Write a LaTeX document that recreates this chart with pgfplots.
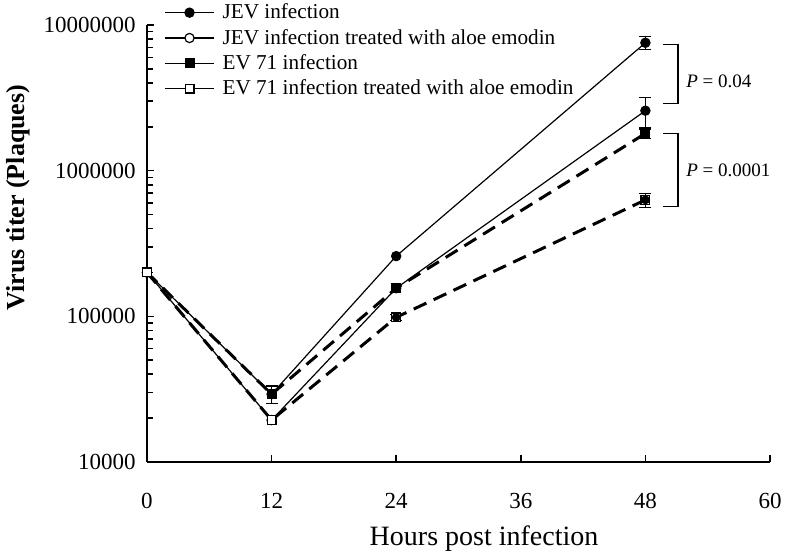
\documentclass[border=0pt]{standalone}
\usepackage{fontspec}
\setmainfont{Liberation Serif}
\usepackage{pgfplots}
\usepackage{pgfplotstable}
\pgfplotsset{compat=1.18}
\pgfplotstableread{
x y
0 200000
12 29200
24 259000
48 7550000
}\jev
\pgfplotstableread{
x y
0 200000
12 19400
24 156000
48 2580000
}\jevtr
\pgfplotstableread{
x y
0 200000
12 29200
24 156000
48 1800000
}\ev
\pgfplotstableread{
x y
0 200000
12 19400
24 98400
48 630000
}\evtr
\pgfplotstableread{
x y e
48 7550000 750000
48 2580000 600000
48 1800000 130000
12 29200 4000
48 630000 70000
24 98400 5000
}\errs
\begin{document}
\begin{tikzpicture}
\begin{axis}[
  scale only axis, width=311.5pt, height=218.5pt,
  xmin=0, xmax=60, ymin=1e4, ymax=1e7, ymode=log,
  axis lines=left, axis line style={-, line width=0.8pt},
  xtick={0,12,24,36,48,60},
  ytick={1e4,1e5,1e6,1e7}, yticklabels={10000,100000,1000000,10000000},
  minor ytick={},
  tick align=inside, major tick length=3.5pt, tick style={line width=0.8pt, black},
  /pgf/number format/assume math mode=true,
  ticklabel style={font=\fontsize{11.5}{13}\selectfont},
  xticklabel style={anchor=north, inner sep=0pt, text height=7.6pt, text depth=0pt, yshift=-15.7pt},
  yticklabel style={anchor=east, inner sep=0pt, text height=7.6pt, text depth=0pt, xshift=-5.5pt},
  xlabel={Hours post infection},
  xlabel style={font=\fontsize{14}{16}\selectfont, at={(axis description cs:0.541,-0.1922)}, anchor=base},
  ylabel={Virus titer (Plaques)},
  ylabel style={font=\fontsize{13}{15}\selectfont\bfseries, at={(axis description cs:-0.2071,0.605)}, anchor=center},
  clip=false,
  legend style={at={(axis description cs:0.0273,1.052)}, anchor=north west, draw=none, fill=none,
    font=\fontsize{10.6}{12}\selectfont, inner sep=0pt, row sep=2.67pt,
    nodes={inner sep=0pt, text height=8pt, text depth=2pt},
    /tikz/every odd column/.style={column sep=4pt}},
  legend cell align=left,
  legend image code/.code={\draw[mark repeat=2,mark phase=2,#1,solid,line width=0.6pt] plot coordinates {(0pt,0pt)(12.25pt,0pt)(24.5pt,0pt)};},
]
\addplot[black, line width=0.6pt, mark=*, mark size=2.3pt, mark options={solid, fill=black}] table[x=x,y=y] {\jev};
\addlegendentry{JEV infection}
\addplot[black, line width=0.6pt, mark=*, mark size=2.3pt, mark options={solid, fill=white}] table[x=x,y=y] {\jevtr};
\addlegendentry{JEV infection treated with aloe emodin}
\addplot[black, line width=1.5pt, dash pattern=on 7pt off 4pt, mark=square*, mark size=2.2pt, mark options={solid, fill=black, line width=0.6pt}] table[x=x,y=y] {\ev};
\addlegendentry{EV 71 infection}
\addplot[black, line width=1.5pt, dash pattern=on 7pt off 4pt, mark=square*, mark size=2.2pt, mark options={solid, fill=white, line width=0.6pt}] table[x=x,y=y] {\evtr};
\addlegendentry{EV 71 infection treated with aloe emodin}
\addplot[black, only marks, mark=none, forget plot,
  error bars/.cd, y dir=both, y explicit,
  error bar style={solid, line width=0.6pt},
  error mark options={rotate=90, mark size=3pt, line width=0.6pt}]
  table[x=x, y=y, y error=e] {\errs};
\draw[line width=0.6pt] (axis cs:49.7,7.36e6) -- (axis cs:51.14,7.36e6) -- (axis cs:51.14,2.90e6) -- (axis cs:49.7,2.90e6);
\node[anchor=west, inner sep=0pt, font=\fontsize{9.5}{11}\selectfont] at (axis cs:51.9,4.08e6) {\textit{P} = 0.04};
\draw[line width=0.6pt] (axis cs:49.7,1.80e6) -- (axis cs:51.14,1.80e6) -- (axis cs:51.14,5.71e5) -- (axis cs:49.7,5.71e5);
\node[anchor=west, inner sep=0pt, font=\fontsize{9.5}{11}\selectfont] at (axis cs:51.9,1.0e6) {\textit{P} = 0.0001};
\end{axis}
\pgfresetboundingbox
\path[use as bounding box] (-73.5pt,-47pt) rectangle (319.5pt,231pt);
\end{tikzpicture}
\end{document}
